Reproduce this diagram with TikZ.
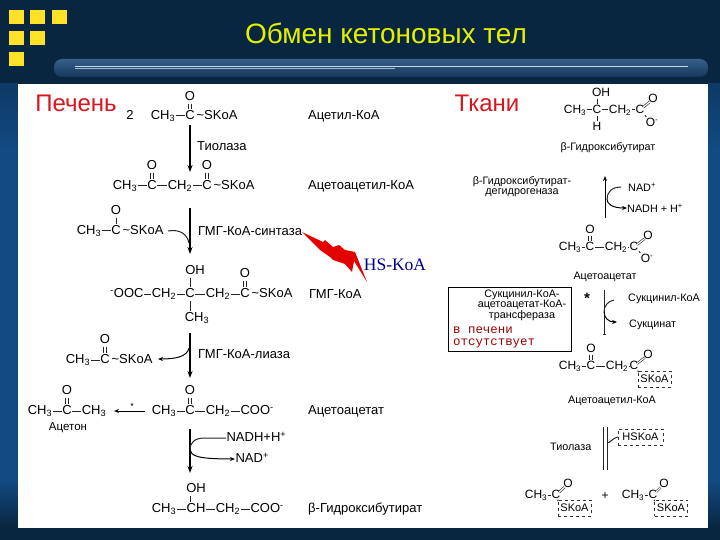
\documentclass[tikz,border=0pt]{standalone}
\usepackage{fontspec}
\setmainfont{Liberation Sans}
\newfontfamily\serifkoa{Liberation Serif}
\newfontfamily\monotxt{Liberation Mono}
\usetikzlibrary{arrows.meta, positioning, calc}
\definecolor{navybg}{HTML}{0D3A66}
\definecolor{darkbg}{HTML}{08263F}
\definecolor{sidebg}{HTML}{124A82}
\definecolor{titleyel}{HTML}{E4F000}
\definecolor{squareyel}{HTML}{FFE227}
\definecolor{barlight}{HTML}{35608A}
\definecolor{bardark}{HTML}{17365C}
\definecolor{chemred}{HTML}{D8141C}
\tikzset{
  atom/.style={font=\fontsize{13}{13}\selectfont, inner sep=0.4pt, text height=9.5pt, text depth=2.5pt, text=black},
  smallatom/.style={font=\fontsize{12}{12}\selectfont, inner sep=0.4pt, text height=9pt, text depth=2pt, text=black},
  lbl/.style={font=\fontsize{13}{13}\selectfont, inner sep=0pt, anchor=west, text=black},
  smalllbl/.style={font=\fontsize{10.8}{10.8}\selectfont, inner sep=0pt, text=black},
  tightlbl/.style={font=\fontsize{10.8}{9.5}\selectfont, align=center, inner sep=0pt, text=black},
  bond/.style={line width=1pt, black!85},
  dbond/.style={line width=0.6pt, black!85, double, double distance=1.2pt, shorten <=-2.5pt, shorten >=-2.5pt},
  rxn/.style={-{Stealth[length=7pt,width=5pt]}, line width=1.3pt, black},
  sidearrow/.style={-{Stealth[length=5pt,width=4pt]}, line width=1pt, black},
  koabox/.style={draw=black!80, dashed, line width=0.7pt, inner sep=0pt, minimum width=33pt, minimum height=16pt, font=\fontsize{11}{11}\selectfont},
  yelsquare/.style={fill=squareyel},
  organ/.style={font=\fontsize{24}{24}\selectfont, text=chemred, inner sep=0pt}
}
\newcommand{\vdbl}[2]{%
  \draw[bond] ([xshift=-1.4pt]#1.south) -- ([xshift=-1.4pt]#2.north);
  \draw[bond] ([xshift=1.4pt]#1.south) -- ([xshift=1.4pt]#2.north);}
\begin{document}
\begin{tikzpicture}[x=1pt, y=-1pt]
  \useasboundingbox (0,0) rectangle (720,540);

  % Background
  \shade[top color=darkbg, middle color=navybg, bottom color=darkbg] (0,0) rectangle (720,540);
  \fill[sidebg] (0,150) rectangle (18,480);
  \fill[sidebg] (708,150) rectangle (720,480);
  \shade[top color=navybg, bottom color=sidebg] (0,84) rectangle (18,150);
  \shade[top color=navybg, bottom color=sidebg] (708,84) rectangle (720,150);
  \shade[top color=sidebg, bottom color=darkbg] (0,480) rectangle (18,528);
  \shade[top color=sidebg, bottom color=darkbg] (708,480) rectangle (720,528);
  \fill[darkbg] (0,528) rectangle (720,540);
  \foreach \x/\y in {9/10, 30/10, 52/10, 9/31, 30/31, 9/52}
    \fill[yelsquare] (\x,\y) rectangle ++(15,14);
  \shade[top color=barlight, bottom color=bardark, rounded corners=8pt] (54,59) rectangle (708,77);
  \draw[white!75!barlight, line width=0.8pt] (75,66) -- (688,66);
  \draw[white!55!barlight, line width=0.5pt] (75,68) -- (395,68);
  \fill[white] (18,84) rectangle (708,528);

  % Titles
  \node[text=titleyel, font=\fontsize{28}{28}\selectfont] (title) at (386,33) {Обмен кетоновых тел};
  \node[organ] (liver) at (76,103) {Печень};
  \node[organ] (tissue) at (487,103) {Ткани};

  % Acetyl-CoA
  \node[atom] (n2) at (130,116) {2};
  \node[atom] (r1a) at (163,116) {CH\textsubscript{3}};
  \node[atom] (r1c) at (190,116) {C};
  \node[atom, anchor=west] (r1s) at (196,116) {\textasciitilde SKoA};
  \node[atom] (r1o) at (190,97) {O};
  \draw[bond] (r1a) -- (r1c);
  \vdbl{r1o}{r1c}
  \node[lbl] (l1) at (308,116) {Ацетил-КоА};

  \coordinate (a1s) at (190,125);
  \coordinate (a1e) at (190,172);
  \draw[rxn] (a1s) -- (a1e);
  \node[lbl] (e1) at (197,146) {Тиолаза};

  % Acetoacetyl-CoA
  \node[atom] (r2a) at (125,186) {CH\textsubscript{3}};
  \node[atom] (r2c) at (152,186) {C};
  \node[atom] (r2m) at (180,186) {CH\textsubscript{2}};
  \node[atom] (r2d) at (207,186) {C};
  \node[atom, anchor=west] (r2s) at (213,186) {\textasciitilde SKoA};
  \node[atom] (r2o) at (152,166) {O};
  \node[atom] (r2p) at (207,166) {O};
  \draw[bond] (r2a) -- (r2c);
  \draw[bond] (r2c) -- (r2m);
  \draw[bond] (r2m) -- (r2d);
  \vdbl{r2o}{r2c}
  \vdbl{r2p}{r2d}
  \node[lbl] (l2) at (308,186) {Ацетоацетил-КоА};

  % Second acetyl-CoA and synthase
  \node[atom] (r3a) at (89,231) {CH\textsubscript{3}};
  \node[atom] (r3c) at (116,231) {C};
  \node[atom, anchor=west] (r3s) at (122,231) {\textasciitilde SKoA};
  \node[atom] (r3o) at (116,211) {O};
  \draw[bond] (r3a) -- (r3c);
  \draw[bond] (r3o) -- (r3c);
  \coordinate (a2s) at (190,208);
  \coordinate (a2e) at (190,254);
  \draw[rxn] (a2s) -- (a2e);
  \coordinate (j2) at (189,243);
  \coordinate (j2s) at (168,231);
  \draw[bond] (j2s) .. controls (180,229) and (187,234) .. (j2);
  \node[lbl] (e2) at (198,231) {ГМГ-КоА-синтаза};

  % HS-CoA
  \fill[red!90!black] (302,232) -- (323,242) -- (325,240) -- (333,247) -- (339,245)
    -- (345,250) -- (355,252) -- (367,282) -- (354,261) -- (352,272) -- (345,264)
    -- (333,260) -- (330,257) -- (320,250) -- cycle;
  \node[font=\serifkoa\fontsize{17.5}{17.5}\selectfont, text=blue!55!black, inner sep=0pt] (hs) at (395,265) {HS-KoA};

  % HMG-CoA
  \node[atom] (r4a) at (127,294) {\textsuperscript{-}OOC};
  \node[atom] (r4m) at (164,294) {CH\textsubscript{2}};
  \node[atom] (r4c) at (190,294) {C};
  \node[atom] (r4n) at (218,294) {CH\textsubscript{2}};
  \node[atom] (r4d) at (245,294) {C};
  \node[atom, anchor=west] (r4s) at (251,294) {\textasciitilde SKoA};
  \node[atom] (r4h) at (195,271) {OH};
  \node[atom] (r4o) at (245,274) {O};
  \node[atom] (r4b) at (197,318) {CH\textsubscript{3}};
  \draw[bond] (r4a) -- (r4m);
  \draw[bond] (r4m) -- (r4c);
  \draw[bond] (r4c) -- (r4n);
  \draw[bond] (r4n) -- (r4d);
  \draw[bond] (r4c) -- (r4c |- r4h.south);
  \draw[bond] (r4c) -- (r4c |- r4b.north);
  \vdbl{r4o}{r4d}
  \node[lbl] (l4) at (309,294) {ГМГ-КоА};

  \coordinate (a3s) at (190,333);
  \coordinate (a3e) at (190,378);
  \draw[rxn] (a3s) -- (a3e);
  \coordinate (j3) at (189,348);
  \coordinate (j3e) at (158,359);
  \draw[sidearrow] (j3) .. controls (187,357) and (175,359) .. (j3e);
  \node[lbl] (e3) at (198,354) {ГМГ-КоА-лиаза};

  % Split-off acetyl-CoA
  \node[atom] (r5a) at (78,360) {CH\textsubscript{3}};
  \node[atom] (r5c) at (105,360) {C};
  \node[atom, anchor=west] (r5s) at (111,360) {\textasciitilde SKoA};
  \node[atom] (r5o) at (105,340) {O};
  \draw[bond] (r5a) -- (r5c);
  \vdbl{r5o}{r5c}

  % Acetoacetate and acetone
  \node[atom] (r6a) at (164,411) {CH\textsubscript{3}};
  \node[atom] (r6c) at (190,411) {C};
  \node[atom] (r6m) at (218,411) {CH\textsubscript{2}};
  \node[atom, anchor=west] (r6e) at (240,411) {COO\textsuperscript{-}};
  \node[atom] (r6o) at (190,391) {O};
  \draw[bond] (r6a) -- (r6c);
  \draw[bond] (r6c) -- (r6m);
  \draw[bond] (r6m) -- (r6e);
  \vdbl{r6o}{r6c}
  \node[lbl] (l6) at (308,411) {Ацетоацетат};

  \node[atom] (r7a) at (40,411) {CH\textsubscript{3}};
  \node[atom] (r7c) at (67,411) {C};
  \node[atom] (r7d) at (94,411) {CH\textsubscript{3}};
  \node[atom] (r7o) at (67,391) {O};
  \draw[bond] (r7a) -- (r7c);
  \draw[bond] (r7c) -- (r7d);
  \vdbl{r7o}{r7c}
  \node[font=\fontsize{11.5}{11.5}\selectfont, inner sep=0pt] (acetone) at (68,428) {Ацетон};
  \coordinate (a4s) at (145,411);
  \coordinate (a4e) at (114,411);
  \draw[sidearrow] (a4s) -- (a4e);
  \node[font=\fontsize{9}{9}\selectfont, inner sep=0pt] (star1) at (132,406) {*};

  \coordinate (a5s) at (190,429);
  \coordinate (a5e) at (190,473);
  \draw[rxn] (a5s) -- (a5e);
  \node[atom, anchor=west] (nadh) at (226,438) {NADH+H\textsuperscript{+}};
  \node[atom, anchor=west] (nad) at (235,459) {NAD\textsuperscript{+}};
  \coordinate (j5) at (190,450);
  \draw[bond] (nadh) -- (205,438) .. controls (195,438) and (190,442) .. (j5);
  \draw[sidearrow] (j5) .. controls (191,456) and (198,459) .. (nad);

  % Beta-hydroxybutyrate
  \node[atom] (r8a) at (164,509) {CH\textsubscript{3}};
  \node[atom] (r8c) at (196,509) {CH};
  \node[atom] (r8m) at (228,509) {CH\textsubscript{2}};
  \node[atom, anchor=west] (r8e) at (250,509) {COO\textsuperscript{-}};
  \node[atom] (r8o) at (196,489) {OH};
  \draw[bond] (r8a) -- (r8c);
  \draw[bond] (r8c) -- (r8m);
  \draw[bond] (r8m) -- (r8e);
  \draw[bond] (r8o.south -| r6c) -- (r8c.north -| r6c);
  \node[lbl] (l8) at (308,509) {β-Гидроксибутират};

  % Tissue side: beta-hydroxybutyrate
  \node[smallatom] (t1a) at (575,110) {CH\textsubscript{3}};
  \node[smallatom] (t1c) at (597,110) {C};
  \node[smallatom] (t1m) at (620,110) {CH\textsubscript{2}};
  \node[smallatom] (t1d) at (640,110) {C};
  \node[smallatom] (t1h) at (601,93) {OH};
  \node[smallatom] (t1b) at (597,127) {H};
  \node[smallatom] (t1o) at (653,99) {O};
  \node[smallatom] (t1n) at (652,123) {O\textsuperscript{-}};
  \draw[bond] (t1a) -- (t1c);
  \draw[bond] (t1c) -- (t1m);
  \draw[bond] (t1m) -- (t1d);
  \draw[bond] (t1c) -- (t1c |- t1h.south);
  \draw[bond] (t1c) -- (t1b);
  \draw[dbond] (t1d) -- (t1o);
  \draw[bond] (t1d) -- (t1n);
  \node[smalllbl] (t1l) at (608,148) {β-Гидроксибутират};

  \node[tightlbl] (e4) at (522,186.5) {β-Гидроксибутират-\\дегидрогеназа};
  \coordinate (a6s) at (605,218);
  \coordinate (a6e) at (605,176);
  \draw[sidearrow] (a6s) -- (a6e);
  \node[smalllbl, anchor=west] (t2n) at (628,187) {NAD\textsuperscript{+}};
  \node[smalllbl, anchor=west] (t2h) at (627,208) {NADH + H\textsuperscript{+}};
  \coordinate (j6) at (607,199);
  \coordinate (j6s) at (621,187);
  \draw[bond] (j6s) .. controls (612,187) and (607,192) .. (j6);
  \draw[sidearrow] (j6) .. controls (607,204) and (612,208) .. (t2h);

  % Tissue side: acetoacetate
  \node[smallatom] (t3a) at (570,247) {CH\textsubscript{3}};
  \node[smallatom] (t3c) at (590,247) {C};
  \node[smallatom] (t3m) at (616,247) {CH\textsubscript{2}};
  \node[smallatom] (t3d) at (634,247) {C};
  \node[smallatom] (t3o) at (590,230) {O};
  \node[smallatom] (t3p) at (648,236) {O};
  \node[smallatom] (t3n) at (647,259) {O\textsuperscript{-}};
  \draw[bond] (t3a) -- (t3c);
  \draw[bond] (t3c) -- (t3m);
  \draw[bond] (t3m) -- (t3d);
  \vdbl{t3o}{t3c}
  \draw[dbond] (t3d) -- (t3p);
  \draw[bond] (t3d) -- (t3n);
  \node[smalllbl] (t3l) at (605,277) {Ацетоацетат};

  % Transferase box
  \node[draw, line width=0.8pt, minimum width=123pt, minimum height=64pt, inner sep=0pt] (tbox) at (509.5,319) {};
  \node[tightlbl] (e5) at (522,305.5) {Сукцинил-КоА-\\ацетоацетат-КоА-\\трансфераза};
  \node[font=\monotxt\fontsize{12.4}{12.4}\selectfont, text=red!60!black, inner sep=0pt, anchor=west] (abs1) at (453,330) {в печени};
  \node[font=\monotxt\fontsize{12.4}{12.4}\selectfont, text=red!60!black, inner sep=0pt, anchor=west] (abs2) at (453,343) {отсутствует};
  \node[font=\bfseries\fontsize{15}{15}\selectfont, inner sep=0pt] (star2) at (587,298) {*};

  \coordinate (a7s) at (604,290);
  \coordinate (a7e) at (604,335);
  \draw[bond, -{Bar[width=3pt]}] (a7s) -- (a7e);
  \node[smalllbl, anchor=west] (t4n) at (628,299) {Сукцинил-КоА};
  \node[smalllbl, anchor=west] (t4h) at (629,325) {Сукцинат};
  \coordinate (j7) at (604,312);
  \coordinate (j7s) at (614,300);
  \coordinate (j7e) at (617,322);
  \draw[bond] (j7s) .. controls (608,301) and (604,306) .. (j7);
  \draw[sidearrow] (j7) .. controls (604,318) and (609,322) .. (j7e);

  % Tissue side: acetoacetyl-CoA
  \node[smallatom] (t5a) at (570,366) {CH\textsubscript{3}};
  \node[smallatom] (t5c) at (591,366) {C};
  \node[smallatom] (t5m) at (617,366) {CH\textsubscript{2}};
  \node[smallatom] (t5d) at (634,366) {C};
  \node[smallatom] (t5o) at (591,349) {O};
  \node[smallatom] (t5p) at (648,355) {O};
  \node[koabox] (t5s) at (654.5,379) {SKoA};
  \draw[bond] (t5a) -- (t5c);
  \draw[bond] (t5c) -- (t5m);
  \draw[bond] (t5m) -- (t5d);
  \vdbl{t5o}{t5c}
  \draw[dbond] (t5d) -- (t5p);
  \draw[bond] (t5d) -- (t5s.north west);
  \node[smalllbl] (t5l) at (612,401) {Ацетоацетил-КоА};

  % Thiolase
  \node[smalllbl, anchor=west] (e6) at (550,447) {Тиолаза};
  \coordinate (a8s) at (603,427);
  \coordinate (a8e) at (603,470);
  \coordinate (a9s) at (607,470);
  \coordinate (a9e) at (607,427);
  \draw[bond] (a8s) -- (a8e);
  \draw[bond] (a9s) -- (a9e);
  \node[koabox, minimum width=45pt] (t6s) at (640.5,437) {HSKoA};
  \coordinate (j9) at (607,443);
  \draw[bond] (t6s.west) .. controls (613,438) and (610,443) .. (j9);

  % Tissue side: two acetyl-CoA
  \node[smallatom] (t7a) at (536,495) {CH\textsubscript{3}};
  \node[smallatom] (t7c) at (556,495) {C};
  \node[smallatom] (t7o) at (568,484) {O};
  \node[koabox] (t7s) at (574.5,508) {SKoA};
  \draw[bond] (t7a) -- (t7c);
  \draw[dbond] (t7c) -- (t7o);
  \draw[bond] (t7c) -- (t7s.north west);
  \node[smallatom] (plus) at (605,496) {+};
  \node[smallatom] (t8a) at (633,495) {CH\textsubscript{3}};
  \node[smallatom] (t8c) at (653,495) {C};
  \node[smallatom] (t8o) at (664,484) {O};
  \node[koabox] (t8s) at (671,508) {SKoA};
  \draw[bond] (t8a) -- (t8c);
  \draw[dbond] (t8c) -- (t8o);
  \draw[bond] (t8c) -- (t8s.north west);
\end{tikzpicture}
\end{document}
